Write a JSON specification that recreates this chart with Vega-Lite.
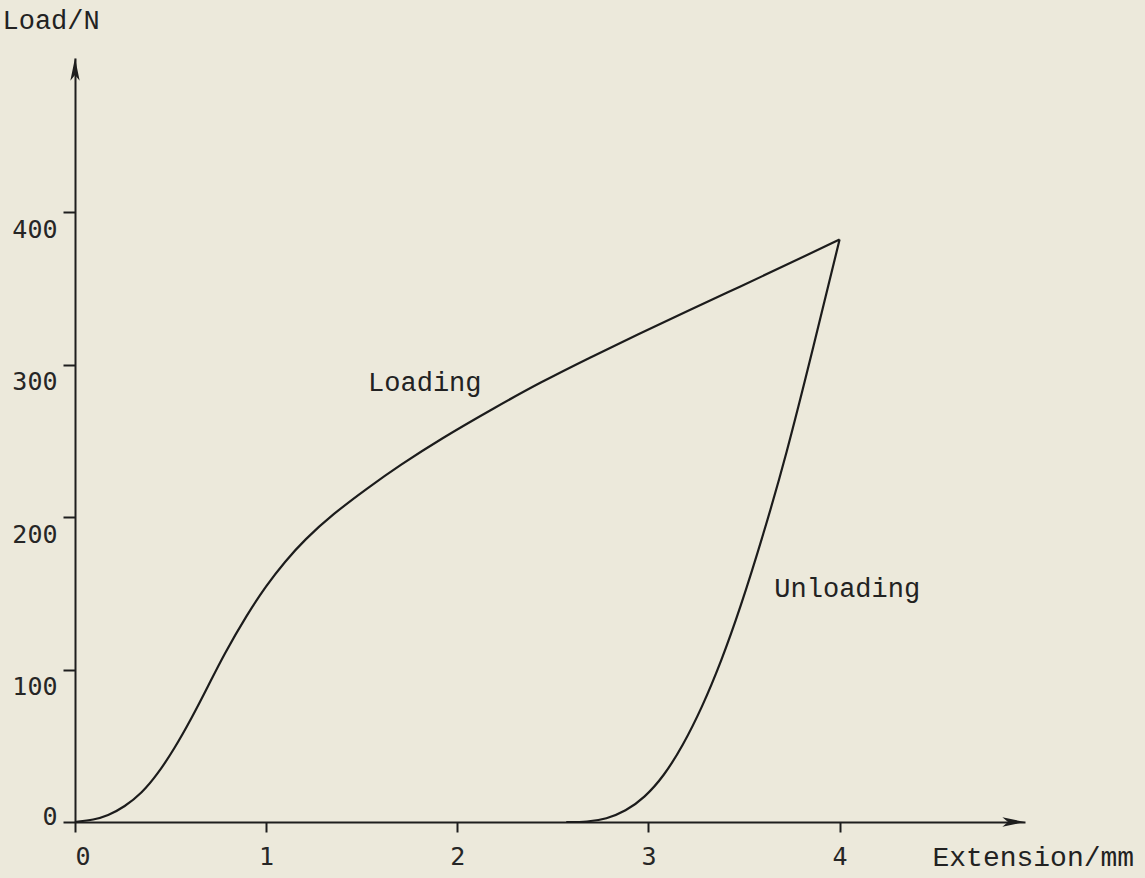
{
  "$schema": "https://vega.github.io/schema/vega-lite/v6.json",
  "autosize": "none",
  "width": 950,
  "height": 764,
  "padding": {"left": 75, "top": 58, "right": 120, "bottom": 56},
  "background": "#ECE9DB",
  "config": {
    "view": {"stroke": null},
    "axis": {
      "domainColor": "#1e1e1e",
      "domainWidth": 2,
      "tickColor": "#1e1e1e",
      "tickWidth": 2,
      "grid": false,
      "labelFont": "DejaVu Sans Mono",
      "labelFontSize": 25,
      "labelColor": "#262626",
      "titleFont": "Liberation Mono",
      "titleFontSize": 27,
      "titleFontWeight": "normal",
      "titleColor": "#222222"
    }
  },
  "datasets": {
    "curves": [
      {"branch": "Loading", "ext": 0.0, "load": 0},
      {"branch": "Loading", "ext": 0.1, "load": 1.5},
      {"branch": "Loading", "ext": 0.17, "load": 4},
      {"branch": "Loading", "ext": 0.26, "load": 10},
      {"branch": "Loading", "ext": 0.35, "load": 19},
      {"branch": "Loading", "ext": 0.43, "load": 31},
      {"branch": "Loading", "ext": 0.52, "load": 48},
      {"branch": "Loading", "ext": 0.61, "load": 68},
      {"branch": "Loading", "ext": 0.70, "load": 90},
      {"branch": "Loading", "ext": 0.78, "load": 110},
      {"branch": "Loading", "ext": 0.90, "load": 136},
      {"branch": "Loading", "ext": 1.00, "load": 155},
      {"branch": "Loading", "ext": 1.10, "load": 171},
      {"branch": "Loading", "ext": 1.20, "load": 185},
      {"branch": "Loading", "ext": 1.35, "load": 202},
      {"branch": "Loading", "ext": 1.53, "load": 219},
      {"branch": "Loading", "ext": 1.70, "load": 234},
      {"branch": "Loading", "ext": 1.91, "load": 251},
      {"branch": "Loading", "ext": 2.2, "load": 272},
      {"branch": "Loading", "ext": 2.43, "load": 288},
      {"branch": "Loading", "ext": 2.7, "load": 305},
      {"branch": "Loading", "ext": 2.95, "load": 320},
      {"branch": "Loading", "ext": 3.2, "load": 335},
      {"branch": "Loading", "ext": 3.48, "load": 351},
      {"branch": "Loading", "ext": 3.75, "load": 367},
      {"branch": "Loading", "ext": 4.0, "load": 382},
      {"branch": "Unloading", "ext": 2.57, "load": 0},
      {"branch": "Unloading", "ext": 2.68, "load": 0},
      {"branch": "Unloading", "ext": 2.78, "load": 2},
      {"branch": "Unloading", "ext": 2.88, "load": 7},
      {"branch": "Unloading", "ext": 2.98, "load": 16},
      {"branch": "Unloading", "ext": 3.08, "load": 30},
      {"branch": "Unloading", "ext": 3.18, "load": 50},
      {"branch": "Unloading", "ext": 3.28, "load": 75},
      {"branch": "Unloading", "ext": 3.38, "load": 105},
      {"branch": "Unloading", "ext": 3.48, "load": 140},
      {"branch": "Unloading", "ext": 3.60, "load": 188},
      {"branch": "Unloading", "ext": 3.72, "load": 240},
      {"branch": "Unloading", "ext": 3.86, "load": 310},
      {"branch": "Unloading", "ext": 4.0, "load": 382}
    ],
    "labels": [
      {"text": "Loading", "ext": 1.83, "load": 288},
      {"text": "Unloading", "ext": 4.04, "load": 153}
    ],
    "arrows": [
      {"axis": "y", "ext": 0, "load": 501},
      {"axis": "x", "ext": 4.97, "load": 0}
    ]
  },
  "layer": [
    {
      "data": {"name": "curves"},
      "mark": {"type": "line", "interpolate": "basis", "color": "#1c1c1c", "strokeWidth": 2.2},
      "encoding": {
        "x": {
          "field": "ext",
          "type": "quantitative",
          "scale": {"domain": [0, 4.97], "nice": false, "zero": false},
          "axis": {
            "title": "Extension/mm",
            "values": [0, 1, 2, 3, 4],
            "format": "d",
            "tickSize": 10,
            "labelPadding": 12,
            "titleFontSize": 28,
            "titleAngle": 0,
            "titleAlign": "left",
            "titleBaseline": "middle",
            "titleX": 857,
            "titleY": 35
          }
        },
        "y": {
          "field": "load",
          "type": "quantitative",
          "scale": {"domain": [0, 501], "nice": false, "zero": false},
          "axis": {
            "title": "Load/N",
            "values": [0, 100, 200, 300, 400],
            "format": "d",
            "tickSize": 12,
            "labelPadding": 6,
            "labelBaseline": "middle",
            "labelOffset": {"condition": {"test": "datum.value === 0", "value": -6}, "value": 17},
            "titleAngle": 0,
            "titleAlign": "left",
            "titleBaseline": "middle",
            "titleX": -73,
            "titleY": -38
          }
        },
        "detail": {"field": "branch"}
      }
    },
    {
      "data": {"name": "arrows"},
      "mark": {"type": "point", "filled": true, "color": "#1e1e1e", "opacity": 1, "size": 800},
      "encoding": {
        "x": {"field": "ext", "type": "quantitative"},
        "y": {"field": "load", "type": "quantitative"},
        "shape": {
          "field": "axis",
          "type": "nominal",
          "scale": {
            "domain": ["x", "y"],
            "range": ["M0,0L-1.6,0.33L-1.2,0L-1.6,-0.33Z", "M0,0L0.33,1.6L0,1.2L-0.33,1.6Z"]
          },
          "legend": null
        }
      }
    },
    {
      "data": {"name": "labels"},
      "mark": {"type": "text", "font": "Liberation Mono", "fontSize": 27, "color": "#222222"},
      "encoding": {
        "x": {"field": "ext", "type": "quantitative"},
        "y": {"field": "load", "type": "quantitative"},
        "text": {"field": "text"}
      }
    }
  ]
}
